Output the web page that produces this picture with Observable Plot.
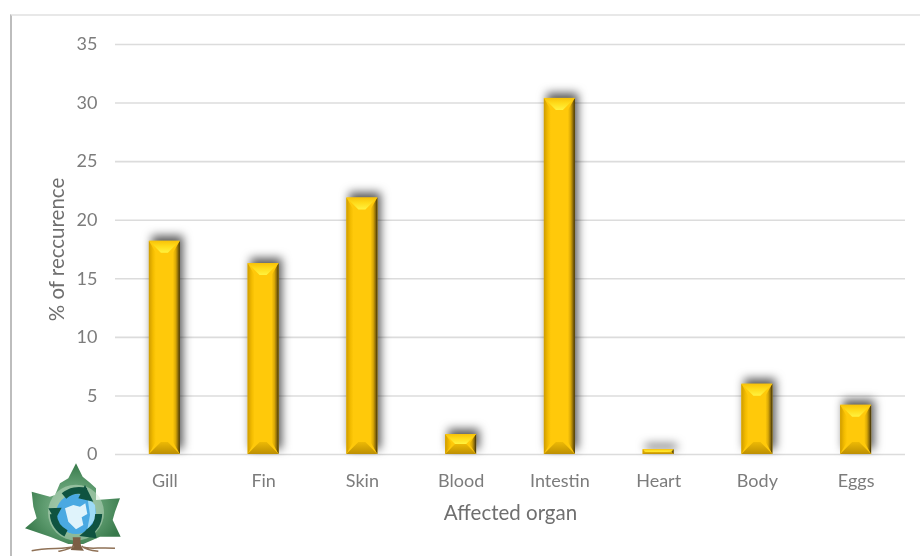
<!DOCTYPE html>
<html>
<head>
<meta charset="utf-8">
<script src="https://cdn.jsdelivr.net/npm/d3@7"></script>
<script src="https://cdn.jsdelivr.net/npm/@observablehq/plot@0.6"></script>
<style>
html,body{margin:0;padding:0;background:#fff;width:920px;height:556px;overflow:hidden}
#wrap{position:relative;width:920px;height:556px}
#frame{position:absolute;left:10px;top:14px;width:910px;height:542px;border-left:2.5px solid #bdbdbd;border-top:2px solid #e8e8e8;box-sizing:border-box;pointer-events:none}
#logo{position:absolute;left:0;top:440px;filter:blur(.4px)}
#chart{position:absolute;left:0;top:0;filter:blur(.35px)}
svg text{font-family:Lato,"Open Sans",sans-serif}
</style>
</head>
<body>
<div id="wrap">
<div id="chart"></div>
<div id="frame"></div>
<svg id="logo" width="200" height="116" viewBox="0 0 600 348">
  <defs>
    <radialGradient id="leafG" cx="50%" cy="55%" r="55%"><stop offset="0" stop-color="#8fbf98"/><stop offset=".55" stop-color="#5f9c70"/><stop offset="1" stop-color="#37794a"/></radialGradient>
  </defs>
  <path d="M228 70 L248 110 L270 128 L288 145 L288 180 L360 175 L345 215 L338 240 L362 290 L300 290 L250 312 L205 312 L150 290 L75 265 L110 235 L100 200 L95 155 L150 170 L165 165 L180 130 L205 115 Z" fill="url(#leafG)"/>
  <circle cx="228" cy="218" r="84" fill="#cfe4d0" opacity=".45"/>
  <circle cx="228" cy="222" r="60" fill="#4aa9e2"/>
  <path d="M262 170 L285 195 L288 235 L262 268 L270 225 Z" fill="#9edbf6"/>
  <path d="M195 205 L220 195 L240 200 L256 190 L262 222 L245 232 L250 255 L228 268 L205 245 Z" fill="#dff3fb"/>
  <g fill="none" stroke="#0f5340" stroke-width="21">
    <path d="M192 168 A68 68 0 0 1 258 155"/>
    <path d="M296 222 A68 68 0 0 1 262 280"/>
    <path d="M198 280 A68 68 0 0 1 160 222"/>
  </g>
  <path d="M255 135 L280 185 L235 175 Z M238 288 L280 252 L290 295 Z M145 205 L185 203 L165 240 Z" fill="#0f5340"/>
  <path d="M212 330 C220 315 220 305 218 292 L242 292 C240 308 242 320 252 332 Z" fill="#7c5f45"/>
  <path d="M95 332 C140 322 190 328 222 320 M345 325 C300 320 270 330 245 320 M175 334 C195 330 210 328 222 318 M295 334 C275 332 255 328 245 318" fill="none" stroke="#8f7156" stroke-width="4.5"/>
</svg>
</div>
<script>
const organs = ["Gill","Fin","Skin","Blood","Intestin","Heart","Body","Eggs"];
const recurrence = [18.2,16.3,21.9,1.7,30.4,0.4,6.0,4.2];
const yTicks = [0,5,10,15,20,25,30,35];
const rows = organs.map((o,i)=>({organ:o,value:recurrence[i]}));
const xTitle = "Affected organ";
const yTitle = "% of reccurence";

const gradients = () => {
  const d = d3.create("svg:defs");
  d.html(`
  <linearGradient id="bLeft" x1="0" x2="1" y1="0" y2="0"><stop offset="0" stop-color="#cf9c00"/><stop offset=".6" stop-color="#f3bc00"/><stop offset="1" stop-color="#ffc90a"/></linearGradient>
  <linearGradient id="bRight" x1="0" x2="1" y1="0" y2="0"><stop offset="0" stop-color="#ffc90a"/><stop offset=".4" stop-color="#d9a806"/><stop offset=".75" stop-color="#87680a"/><stop offset="1" stop-color="#3a2d05"/></linearGradient>
  <linearGradient id="bTop" x1="0" x2="0" y1="0" y2="1"><stop offset="0" stop-color="#f8c208"/><stop offset=".45" stop-color="#ffdb1a"/><stop offset="1" stop-color="#fff23f"/></linearGradient>
  <linearGradient id="bBot" x1="0" x2="0" y1="0" y2="1"><stop offset="0" stop-color="#edb905"/><stop offset="1" stop-color="#bd8f02"/></linearGradient>`);
  return d.node();
};

function bevel(index, scales, values, dims, ctx, next){
  const g = next(index, scales, values, dims, ctx);
  g.style.filter = "drop-shadow(3px -5px 5px rgba(0,0,0,.65))";
  const NS = "http://www.w3.org/2000/svg";
  Array.from(g.querySelectorAll("rect")).forEach(r=>{
    const x=+r.getAttribute("x"),y=+r.getAttribute("y"),w=+r.getAttribute("width"),h=+r.getAttribute("height");
    const s=Math.min(12,h/2);
    const x2=x+w,y2=y+h;
    const poly=(pts,fill)=>{const p=document.createElementNS(NS,"polygon");
      p.setAttribute("points",pts.map(a=>a.join(",")).join(" "));p.setAttribute("fill",fill);r.parentNode.appendChild(p);};
    poly([[x,y],[x+7,y+s],[x+7,y2-s],[x,y2]],"url(#bLeft)");
    poly([[x2,y],[x2-7,y+s],[x2-7,y2-s],[x2,y2]],"url(#bRight)");
    poly([[x,y2],[x+s,y2-s],[x2-s,y2-s],[x2,y2]],"url(#bBot)");
    poly([[x,y],[x2,y],[x2-s,y+s],[x+s,y+s]],"url(#bTop)");
  });
  return g;
}

const chart = Plot.plot({
  width:920,height:556,
  marginLeft:115,marginRight:15,marginTop:44,marginBottom:102,
  style:{background:"transparent",fontFamily:"Lato, 'Open Sans', sans-serif"},
  x:{domain:organs,paddingInner:0.686,paddingOuter:0.343,round:false,label:null},
  y:{domain:[0,35],label:null},
  marks:[
    gradients,
    Plot.ruleY(yTicks,{stroke:"#dcdcdc",strokeWidth:1.6}),
    Plot.barY(rows,{x:"organ",y:"value",fill:"#ffc90a",render:bevel}),
    Plot.axisY(yTicks,{tickSize:0,tickPadding:18,fontSize:18,fill:"#7c7c7c",label:null}),
    Plot.axisX(organs,{tickSize:0,tickPadding:20,fontSize:18,fill:"#7c7c7c",label:null}),
    Plot.text([xTitle],{frameAnchor:"bottom",dy:65,fontSize:20.5,fill:"#6f6f6f",text:d=>d}),
    Plot.text([yTitle],{frameAnchor:"left",textAnchor:"middle",dx:-58,rotate:-90,fontSize:20.5,fill:"#6f6f6f",text:d=>d})
  ]
});
document.getElementById("chart").appendChild(chart);
</script>
</body>
</html>
